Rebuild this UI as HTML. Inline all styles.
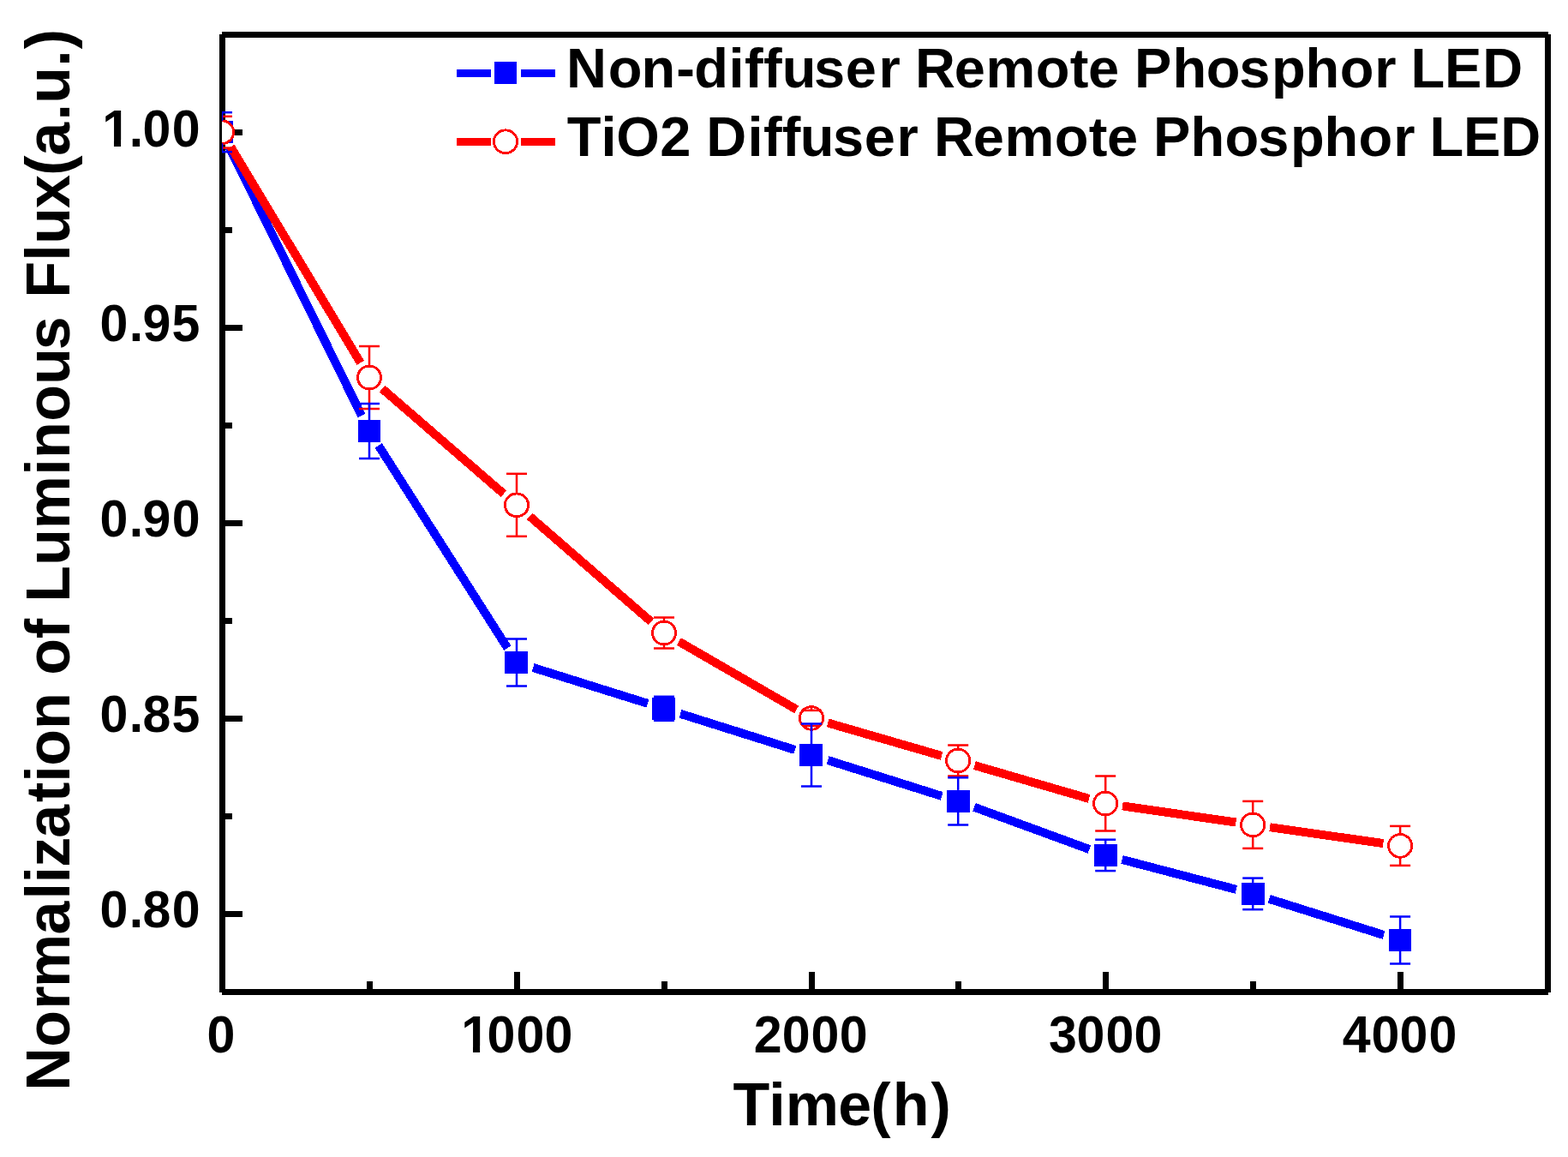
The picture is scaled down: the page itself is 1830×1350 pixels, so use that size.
<!DOCTYPE html>
<html lang="en">
<head>
<meta charset="utf-8">
<title>Normalization of Luminous Flux vs Time</title>
<style>
html,body{margin:0;padding:0;background:#ffffff;}
body{width:1830px;height:1350px;}
svg{display:block;}
text{font-family:"Liberation Sans",Arial,Helvetica,sans-serif;font-weight:bold;fill:#000000;font-kerning:none;font-variant-ligatures:none;white-space:pre;}
</style>
</head>
<body>
<svg width="1830" height="1350" viewBox="0 0 1830 1350" role="img" aria-label="Normalization of luminous flux versus time for two remote phosphor LEDs">
<rect x="0" y="0" width="1830" height="1350" fill="#ffffff"/>
<defs><clipPath id="plotclip"><rect x="259" y="40" width="1548" height="1118"/></clipPath></defs>
<g id="axes" fill="#000000" shape-rendering="crispEdges">
<rect x="256" y="40" width="7" height="1118"/>
<rect x="1803" y="40" width="7" height="1118"/>
<rect x="259" y="37" width="1548" height="7"/>
<rect x="259" y="1154" width="1548" height="7"/>
<rect x="263" y="151" width="20" height="7"/>
<rect x="263" y="265" width="8" height="7"/>
<rect x="263" y="379" width="20" height="7"/>
<rect x="263" y="493" width="8" height="7"/>
<rect x="263" y="607" width="20" height="7"/>
<rect x="263" y="721" width="8" height="7"/>
<rect x="263" y="835" width="20" height="7"/>
<rect x="263" y="949" width="8" height="7"/>
<rect x="263" y="1063" width="20" height="7"/>
<rect x="428" y="1145" width="7" height="9"/>
<rect x="600" y="1134" width="7" height="20"/>
<rect x="772" y="1145" width="7" height="9"/>
<rect x="944" y="1134" width="7" height="20"/>
<rect x="1115" y="1145" width="7" height="9"/>
<rect x="1287" y="1134" width="7" height="20"/>
<rect x="1459" y="1145" width="7" height="9"/>
<rect x="1631" y="1134" width="7" height="20"/>
</g>
<g id="ylabels">
<text font-size="59.1" transform="translate(0 170.9) scale(1 1.0300)" x="119.23 150.82 166.51 200.71" y="0">1.00</text>
<rect x="120.41" y="163.29" width="12.56" height="9.11" fill="#ffffff"/>
<rect x="141.1" y="163.29" width="10.05" height="9.11" fill="#ffffff"/>
<text font-size="59.1" transform="translate(0 398) scale(1 1.0300)" x="116.41 150.82 166.54 200.58" y="0">0.95</text>
<text font-size="59.1" transform="translate(0 626) scale(1 1.0300)" x="116.41 150.82 166.54 200.71" y="0">0.90</text>
<text font-size="59.1" transform="translate(0 853.9) scale(1 1.0300)" x="116.41 150.82 166.54 200.58" y="0">0.85</text>
<text font-size="59.1" transform="translate(0 1081.8) scale(1 1.0300)" x="116.41 150.82 166.54 200.71" y="0">0.80</text>
</g>
<g id="xlabels">
<text font-size="59.1" transform="translate(0 1227.9) scale(1 1.0300)" x="241.61" y="0">0</text>
<text font-size="59.1" transform="translate(0 1227.9) scale(1 1.0300)" x="538.23 568.61 602.56 635.61" y="0">1000</text>
<rect x="539.42" y="1220.29" width="12.56" height="9.11" fill="#ffffff"/>
<rect x="560.1" y="1220.29" width="10.05" height="9.11" fill="#ffffff"/>
<text font-size="59.1" transform="translate(0 1227.9) scale(1 1.0300)" x="879.82 912.66 946.46 979.66" y="0">2000</text>
<text font-size="59.1" transform="translate(0 1227.9) scale(1 1.0300)" x="1224.11 1256.56 1290.56 1323.46" y="0">3000</text>
<text font-size="59.1" transform="translate(0 1227.9) scale(1 1.0300)" x="1566.73 1600.46 1633.61 1667.46" y="0">4000</text>
</g>
<text id="xtitle" font-size="70" x="855.5 897.26 916.69 978.26 1016.24 1041.8 1086.5" y="1313">Time(h)</text>
<text id="ytitle" font-size="70" transform="translate(81 0) rotate(-90) scale(1 1.0286)" x="-1272.76 -1221.83 -1177.85 -1152.11 -1090.56 -1049.54 -1030.59 -1011.69 -977.76 -936.06 -912.69 -893.83 -850.92 -808.16 -787.78 -745.17 -721.86 -702.64 -659.74 -617.21 -554.64 -534.97 -491.73 -448.79 -408.26 -369.33 -347.79 -304.64 -284.79 -242.95 -204.81 -181.76 -140.54 -120.69 -77.74 -57.3" y="0">Normalization of Luminous Flux(a.u.)</text>
<g id="data" clip-path="url(#plotclip)" shape-rendering="crispEdges">
<g id="blue-line" stroke="#0000ff" stroke-width="10" stroke-linecap="butt" fill="none">
<line x1="267.85" y1="172.14" x2="422.15" y2="485.06"/>
<line x1="441.75" y1="519.87" x2="592.25" y2="756.13"/>
<line x1="622.09" y1="778.97" x2="755.91" y2="820.83"/>
<line x1="794.08" y1="832.81" x2="927.92" y2="874.99"/>
<line x1="966.08" y1="887.01" x2="1099.12" y2="928.89"/>
<line x1="1136.98" y1="941.78" x2="1271.42" y2="991.02"/>
<line x1="1309.55" y1="1002.96" x2="1442.85" y2="1037.84"/>
<line x1="1481.28" y1="1048.9" x2="1615.02" y2="1091"/>
</g>
<g id="blue-symbols" fill="#0000ff">
<rect x="246" y="141" width="26" height="26"/>
<rect x="418" y="490" width="26" height="26"/>
<rect x="589" y="760" width="27" height="26"/>
<rect x="761" y="814" width="27" height="26"/>
<rect x="933" y="868" width="27" height="26"/>
<rect x="1105" y="922" width="27" height="26"/>
<rect x="1277" y="985" width="27" height="26"/>
<rect x="1449" y="1030" width="27" height="26"/>
<rect x="1621" y="1084" width="26" height="26"/>
</g>
<g id="red-line" stroke="#ff0000" stroke-width="10" stroke-linecap="butt" fill="none">
<line x1="269.3" y1="171.34" x2="420.7" y2="423.36"/>
<line x1="446.13" y1="453.59" x2="587.87" y2="576.21"/>
<line x1="618.11" y1="602.41" x2="759.89" y2="725.39"/>
<line x1="792.32" y1="748.51" x2="929.68" y2="827.89"/>
<line x1="966.21" y1="843.47" x2="1098.99" y2="881.93"/>
<line x1="1137.4" y1="893.08" x2="1271" y2="931.92"/>
<line x1="1309.99" y1="940.37" x2="1442.41" y2="959.53"/>
<line x1="1482" y1="965.22" x2="1614.3" y2="984.08"/>
</g>
<g id="red-symbols" fill="#ffffff" stroke="#ff0000" stroke-width="2.9">
<ellipse cx="259" cy="154.2" rx="13.6" ry="13.35"/>
<ellipse cx="431" cy="440.5" rx="13.6" ry="13.35"/>
<ellipse cx="603" cy="589.3" rx="13.6" ry="13.35"/>
<ellipse cx="775" cy="738.5" rx="13.6" ry="13.35"/>
<ellipse cx="947" cy="837.9" rx="13.6" ry="13.35"/>
<ellipse cx="1118.2" cy="887.5" rx="13.6" ry="13.35"/>
<ellipse cx="1290.2" cy="937.5" rx="13.6" ry="13.35"/>
<ellipse cx="1462.2" cy="962.4" rx="13.6" ry="13.35"/>
<ellipse cx="1634.1" cy="986.9" rx="13.6" ry="13.35"/>
</g>
<g id="red-errors" fill="#ff0000" shape-rendering="geometricPrecision">
<rect x="247" y="134.55" width="24" height="2.5"/>
<rect x="247" y="171.35" width="24" height="2.5"/>
<rect x="257.75" y="135.8" width="2.5" height="4.1"/>
<rect x="257.75" y="168.5" width="2.5" height="4.1"/>
<rect x="419" y="402.75" width="24" height="2.5"/>
<rect x="419" y="475.75" width="24" height="2.5"/>
<rect x="429.75" y="404" width="2.5" height="22.2"/>
<rect x="429.75" y="454.8" width="2.5" height="22.2"/>
<rect x="591" y="551.55" width="24" height="2.5"/>
<rect x="591" y="624.55" width="24" height="2.5"/>
<rect x="601.75" y="552.8" width="2.5" height="22.2"/>
<rect x="601.75" y="603.6" width="2.5" height="22.2"/>
<rect x="763" y="719.25" width="24" height="2.5"/>
<rect x="763" y="755.25" width="24" height="2.5"/>
<rect x="773.75" y="720.5" width="2.5" height="3.7"/>
<rect x="773.75" y="752.8" width="2.5" height="3.7"/>
<rect x="936.5" y="827.65" width="21" height="2.5"/>
<rect x="936.5" y="845.65" width="21" height="2.5"/>
<rect x="945.75" y="823.6" width="2.5" height="5.3"/>
<rect x="945.75" y="846.9" width="2.5" height="5.3"/>
<rect x="1106.2" y="868.25" width="24" height="2.5"/>
<rect x="1106.2" y="904.25" width="24" height="2.5"/>
<rect x="1116.95" y="869.5" width="2.5" height="3.7"/>
<rect x="1116.95" y="901.8" width="2.5" height="3.7"/>
<rect x="1278.2" y="904.25" width="24" height="2.5"/>
<rect x="1278.2" y="968.25" width="24" height="2.5"/>
<rect x="1288.95" y="905.5" width="2.5" height="17.7"/>
<rect x="1288.95" y="951.8" width="2.5" height="17.7"/>
<rect x="1450.2" y="933.65" width="24" height="2.5"/>
<rect x="1450.2" y="988.65" width="24" height="2.5"/>
<rect x="1460.95" y="934.9" width="2.5" height="13.2"/>
<rect x="1460.95" y="976.7" width="2.5" height="13.2"/>
<rect x="1622.1" y="962.65" width="24" height="2.5"/>
<rect x="1622.1" y="1008.65" width="24" height="2.5"/>
<rect x="1632.85" y="963.9" width="2.5" height="8.7"/>
<rect x="1632.85" y="1001.2" width="2.5" height="8.7"/>
</g>
<g id="blue-errors" fill="#0000ff" shape-rendering="geometricPrecision">
<rect x="247" y="129.95" width="24" height="2.5"/>
<rect x="247" y="175.95" width="24" height="2.5"/>
<rect x="257.75" y="131.2" width="2.5" height="10"/>
<rect x="257.75" y="167.2" width="2.5" height="10"/>
<rect x="419" y="469.75" width="24" height="2.5"/>
<rect x="419" y="533.75" width="24" height="2.5"/>
<rect x="429.75" y="471" width="2.5" height="19"/>
<rect x="429.75" y="516" width="2.5" height="19"/>
<rect x="591" y="744.25" width="24" height="2.5"/>
<rect x="591" y="799.25" width="24" height="2.5"/>
<rect x="601.75" y="745.5" width="2.5" height="14.5"/>
<rect x="601.75" y="786" width="2.5" height="14.5"/>
<rect x="763" y="811.55" width="24" height="2.5"/>
<rect x="763" y="839.55" width="24" height="2.5"/>
<rect x="773.75" y="812.8" width="2.5" height="1"/>
<rect x="773.75" y="839.8" width="2.5" height="1"/>
<rect x="935" y="843.25" width="24" height="2.5"/>
<rect x="935" y="916.25" width="24" height="2.5"/>
<rect x="945.75" y="844.5" width="2.5" height="23.5"/>
<rect x="945.75" y="894" width="2.5" height="23.5"/>
<rect x="1106.2" y="906.05" width="24" height="2.5"/>
<rect x="1106.2" y="961.25" width="24" height="2.5"/>
<rect x="1116.95" y="907.3" width="2.5" height="14.6"/>
<rect x="1116.95" y="947.9" width="2.5" height="14.6"/>
<rect x="1278.2" y="978.45" width="24" height="2.5"/>
<rect x="1278.2" y="1014.85" width="24" height="2.5"/>
<rect x="1288.95" y="979.7" width="2.5" height="5.2"/>
<rect x="1288.95" y="1010.9" width="2.5" height="5.2"/>
<rect x="1450.2" y="1023.35" width="24" height="2.5"/>
<rect x="1450.2" y="1059.95" width="24" height="2.5"/>
<rect x="1460.95" y="1024.6" width="2.5" height="5.3"/>
<rect x="1460.95" y="1055.9" width="2.5" height="5.3"/>
<rect x="1622.1" y="1068.25" width="24" height="2.5"/>
<rect x="1622.1" y="1123.25" width="24" height="2.5"/>
<rect x="1632.85" y="1069.5" width="2.5" height="14.5"/>
<rect x="1632.85" y="1110" width="2.5" height="14.5"/>
</g>
</g>
<g id="legend" shape-rendering="crispEdges">
<rect x="533" y="81" width="40" height="9" fill="#0000ff"/>
<rect x="608" y="81" width="40" height="9" fill="#0000ff"/>
<rect x="577" y="72" width="26" height="26" fill="#0000ff"/>
<rect x="533" y="161" width="40" height="9" fill="#ff0000"/>
<rect x="608" y="161" width="40" height="9" fill="#ff0000"/>
<ellipse cx="590" cy="165.2" rx="13.6" ry="13.35" fill="#ffffff" stroke="#ff0000" stroke-width="2.9"/>
</g>
<text id="leg1" font-size="65" x="661.1 709.75 748.62 789.26 810.36 850.6 869.06 891.11 912.72 949.97 986.87 1025.4 1050.7 1068.07 1113.82 1150.53 1208.65 1248.63 1269.92 1306.07 1323.96 1368.39 1407.75 1446.37 1484.09 1523.44 1563.65 1604.2 1629.5 1646.57 1685.92 1730.27" y="102">Non-diffuser Remote Phosphor LED</text>
<text id="leg2" font-size="65" x="661.63 701.45 719.25 770.2 806.35 824.17 872.55 891.01 912.66 933.82 972.02 1008.67 1046.45 1071.75 1089.97 1135.87 1172.48 1230.7 1270.68 1291.92 1328.07 1345.91 1389.39 1429.6 1468.22 1506.09 1545.39 1585.55 1626.25 1651.55 1668.42 1707.92 1751.37" y="182">TiO2 Diffuser Remote Phosphor LED</text>
</svg>
</body>
</html>
